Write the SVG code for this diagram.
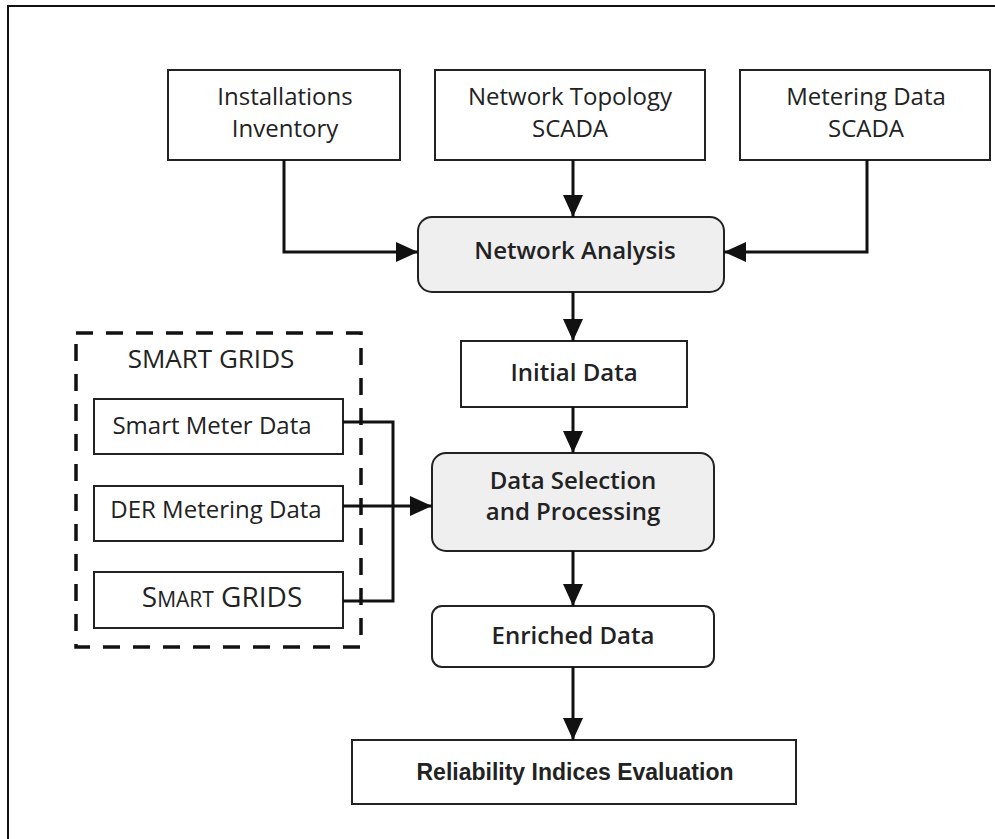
<svg xmlns="http://www.w3.org/2000/svg" width="995" height="839" viewBox="0 0 995 839">
  <defs>
    <marker id="arrow" markerUnits="userSpaceOnUse" markerWidth="22" markerHeight="20" refX="22" refY="10" orient="auto">
      <path d="M0,0 L22,10 L0,20 Z" fill="#111"/>
    </marker>
    <style>
      .box { fill: #fff; stroke: #222; stroke-width: 2; }
      .proc { fill: #efefef; stroke: #222; stroke-width: 2; }
      .lbl { font-family: "Open Sans", "Noto Sans", sans-serif; font-size: 24px; font-weight: 500; fill: #222; text-anchor: middle; }
      .bold { font-weight: 600; }
      .title { font-size: 26px; }
      .rel { font-family: "Liberation Sans", Arial, sans-serif; font-size: 23px; font-weight: bold; fill: #222; text-anchor: middle; }
      .wire { fill: none; stroke: #111; stroke-width: 3; }
      .arr { marker-end: url(#arrow); }
    </style>
  </defs>

  <rect width="995" height="839" fill="#fff"/>
  <!-- page frame (left and top edges) -->
  <path d="M8,839 V6 H995" fill="none" stroke="#111" stroke-width="2"/>

  <!-- input sources -->
  <g id="installations">
    <rect class="box" x="168" y="70" width="232" height="90"/>
    <text class="lbl" x="285" y="105">Installations</text>
    <text class="lbl" x="285" y="137">Inventory</text>
  </g>
  <g id="topology">
    <rect class="box" x="435" y="70" width="270" height="90"/>
    <text class="lbl" x="570" y="105">Network Topology</text>
    <text class="lbl" x="570" y="137">SCADA</text>
  </g>
  <g id="metering">
    <rect class="box" x="740" y="70" width="250" height="90"/>
    <text class="lbl" x="866" y="105">Metering Data</text>
    <text class="lbl" x="866" y="137">SCADA</text>
  </g>

  <!-- processing chain -->
  <g id="network-analysis">
    <rect class="proc" x="418" y="217" width="306" height="75" rx="14"/>
    <text class="lbl bold" x="575" y="259">Network Analysis</text>
  </g>
  <g id="initial-data">
    <rect class="box" x="461" y="341" width="226" height="66"/>
    <text class="lbl bold" x="574" y="381">Initial Data</text>
  </g>
  <g id="data-selection">
    <rect class="proc" x="432" y="453" width="282" height="98" rx="14"/>
    <text class="lbl bold" x="573" y="489">Data Selection</text>
    <text class="lbl bold" x="573" y="520">and Processing</text>
  </g>
  <g id="enriched-data">
    <rect class="box" x="432" y="606" width="282" height="61" rx="10"/>
    <text class="lbl bold" x="573" y="644">Enriched Data</text>
  </g>
  <g id="reliability">
    <rect class="box" x="352" y="740" width="444" height="64"/>
    <text class="rel" x="575" y="780">Reliability Indices Evaluation</text>
  </g>

  <!-- smart grid sources -->
  <g id="smart-grids">
    <rect x="76" y="333" width="285" height="314" fill="none" stroke="#111" stroke-width="3.5" stroke-dasharray="17 13"/>
    <text class="lbl title" x="211" y="368">SMART GRIDS</text>
  </g>
  <g id="smart-meter">
    <rect class="box" x="94" y="399" width="249" height="55"/>
    <text class="lbl" x="212" y="434">Smart Meter Data</text>
  </g>
  <g id="der-metering">
    <rect class="box" x="94" y="486" width="249" height="55"/>
    <text class="lbl" x="216" y="518">DER Metering Data</text>
  </g>
  <g id="smart-grids-box">
    <rect class="box" x="94" y="572" width="249" height="56"/>
    <text class="lbl" x="222" y="607"><tspan font-size="28">S</tspan><tspan font-size="21">MART</tspan><tspan font-size="28"> GRIDS</tspan></text>
  </g>

  <!-- connectors -->
  <g id="connectors">
    <path class="wire arr" d="M284,160 V252 H418"/>
    <path class="wire arr" d="M573,160 V217"/>
    <path class="wire arr" d="M867,160 V252 H724"/>
    <path class="wire arr" d="M573,292 V341"/>
    <path class="wire arr" d="M573,407 V453"/>
    <path class="wire" d="M343,422 H393 V601 H343"/>
    <path class="wire arr" d="M343,506 H432"/>
    <path class="wire arr" d="M573,551 V606"/>
    <path class="wire arr" d="M573,667 V740"/>
  </g>
</svg>
